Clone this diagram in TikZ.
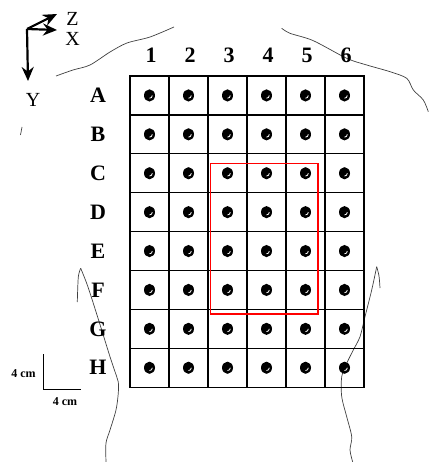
\documentclass[tikz,border=0pt]{standalone}
\usepackage{fontspec}
\setmainfont{Liberation Serif}
\usetikzlibrary{arrows.meta}
\begin{document}
\begin{tikzpicture}[x=1pt, y=-1pt,
    cell/.style={rectangle, draw, line width=1.3pt, minimum width=39pt, minimum height=38.9pt, inner sep=0pt},
    rotulo/.style={font=\fontsize{22}{22}\selectfont\bfseries, inner sep=0pt},
    eixotxt/.style={font=\fontsize{20}{20}\selectfont, inner sep=0pt},
    escala/.style={font=\fontsize{12}{12}\selectfont\bfseries, inner sep=0pt},
    eixo/.style={line width=2.2pt, -{Stealth[length=14pt, width=12pt]}},
    corpo/.style={black!75, line width=0.7pt}]
    \useasboundingbox (0,0) rectangle (431,462);

    % Contorno do tronco
    \draw[corpo] plot[smooth] coordinates {(56,76) (73,70) (90,65) (110,52) (127,43) (150,37) (174,27)};
    \draw[corpo] plot[smooth] coordinates {(281.7,28.3) (290,33.3) (313.3,40.7) (346.7,58.3) (366.7,65) (390,71.7) (406.7,78.3) (413.3,90) (423.3,100) (428.3,111.7)};
    \draw[corpo] (22,127) -- (20.5,135);
    \draw[corpo] plot[smooth] coordinates {(80.7,268.3) (86.7,283.3) (93.3,303.3) (101.7,330) (110,356.7) (116.7,376.7) (118.3,382) (118.3,393) (116,410) (110,430) (106,443) (106,462)};
    \draw[corpo] plot[smooth] coordinates {(80.7,268.3) (78.3,277) (77.3,302)};
    \draw[corpo] plot[smooth] coordinates {(376.7,266.7) (371.7,290) (365,316.7) (360,336.7) (353.3,350) (346.7,363.3) (341.7,376.7) (341.7,396.7) (346.7,416.7) (351.7,436.7) (350,450) (352.7,462)};
    \draw[corpo] plot[smooth] coordinates {(376.7,266.7) (379,276) (380,288)};

    % Eletrodos
    \foreach \l [count=\r] in {A,B,C,D,E,F,G,H} {
        \node[rotulo] (l\l) at (98, 76+38.9*\r-19.45) {\l};
        \foreach \c in {1,...,6} {
            \node[cell] (\l\c) at (130+39*\c-19.5, 76+38.9*\r-19.45) {};
            \fill (\l\c) ellipse (5.5 and 6.1);
            \draw[white, line width=0.8pt] ([xshift=2.8pt]\l\c.center) arc[start angle=0, end angle=90, radius=2.8];
        }
    }
    \foreach \c in {1,...,6}
        \node[rotulo] (n\c) at (131.5+39*\c-19.5, 55) {\c};

    % Regiao destacada
    \draw[red, line width=1.3pt] (210.7,163.3) rectangle (318,314);

    % Eixos
    \coordinate (o) at (27,29);
    \coordinate (tz) at (57,14);
    \coordinate (tx) at (57,30);
    \coordinate (ty) at (28,81);
    \draw[eixo] (o) -- (tz);
    \draw[eixo] (o) -- (tx);
    \draw[eixo] (o) -- (ty);
    \node[eixotxt] (Z) at (72.5,18.5) {Z};
    \node[eixotxt] (X) at (72.5,39) {X};
    \node[eixotxt] (Y) at (33,100) {Y};

    % Escala
    \coordinate (eT) at (43.3,354);
    \coordinate (eO) at (43.3,389);
    \coordinate (eR) at (80.7,389);
    \draw[line width=1pt] (eT) -- (eO) -- (eR);
    \node[escala] (eV) at (23.5,374) {4 cm};
    \node[escala] (eH) at (65,402) {4 cm};
\end{tikzpicture}
\end{document}
